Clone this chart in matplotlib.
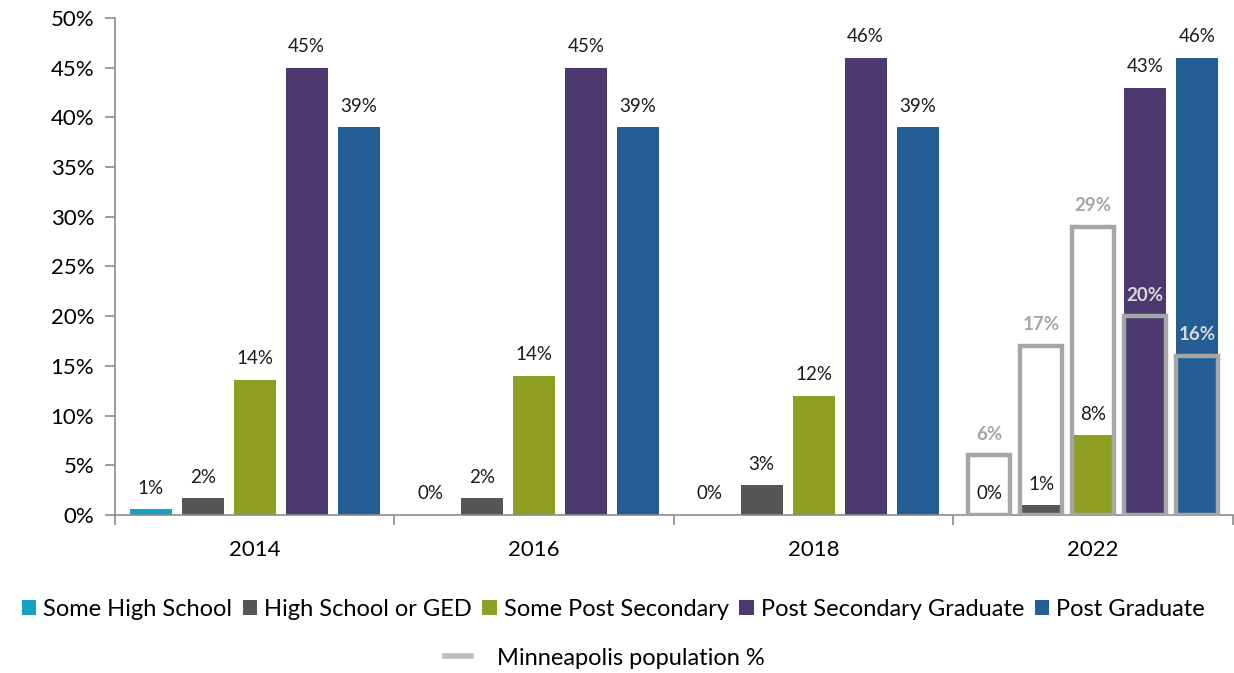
import numpy as np
import matplotlib.pyplot as plt
from matplotlib.patches import Patch
from matplotlib.lines import Line2D

plt.rcParams['font.family'] = ['Lato', 'DejaVu Sans']

years = ["2014", "2016", "2018", "2022"]
levels = ["Some High School", "High School or GED", "Some Post Secondary",
          "Post Secondary Graduate", "Post Graduate"]
colors = ["#17A2C3", "#555657", "#8E9F24", "#4B3970", "#245C94"]

# survey share by education level, one list per level (years in order)
some_hs = [0.6, 0.0, 0.0, 0.0]
hs_ged = [1.7, 1.7, 3.0, 1.0]
some_post = [13.6, 14.0, 12.0, 8.0]
post_grad_sec = [45.0, 45.0, 46.0, 43.0]
post_grad = [39.0, 39.0, 39.0, 46.0]
series = [some_hs, hs_ged, some_post, post_grad_sec, post_grad]

# city population for 2022
mpls_pop = [6, 17, 29, 20, 16]
mpls_label_colors = ["#A6A6A6", "#A6A6A6", "#A6A6A6", "#D9D9D9", "#D9D9D9"]

fig = plt.figure(figsize=(12.34, 6.73), dpi=100)
ax = fig.add_axes([0.0932, 0.2348, 0.9058, 0.7385])

x = np.arange(len(years))
step = 0.186
width = 0.15
lbl_size = 13.5

for i, (vals, c) in enumerate(zip(series, colors)):
    pos = x + (i - 2) * step
    ax.bar(pos, vals, width, color=c, zorder=2)
    for px, v in zip(pos, vals):
        if px > 2.5:
            continue
        ax.annotate("{:.0f}%".format(v), (px, v), xytext=(0, 9),
                    textcoords="offset points", ha="center", va="bottom",
                    fontsize=lbl_size, color="#1a1a1a")

# 2022 group: survey labels sit above the survey bars
pos22 = 3 + (np.arange(5) - 2) * step
vals22 = [s[3] for s in series]
ax.bar(pos22, mpls_pop, width, fill=False, edgecolor="#A6A6A6",
       linewidth=3.2, zorder=3)
for px, v in zip(pos22, vals22):
    ax.annotate("{:.0f}%".format(v), (px, v), xytext=(0, 9),
                textcoords="offset points", ha="center", va="bottom",
                fontsize=lbl_size, color="#1a1a1a", zorder=4)
for px, v, lc in zip(pos22, mpls_pop, mpls_label_colors):
    ax.annotate("{:.0f}%".format(v), (px, v), xytext=(0, 9),
                textcoords="offset points", ha="center", va="bottom",
                fontsize=lbl_size, color=lc, fontweight="bold", zorder=4)

ax.set_ylim(0, 50)
ax.set_xlim(-0.5, 3.5)
ax.set_yticks(np.arange(0, 51, 5))
ax.set_yticklabels(["{}%".format(t) for t in range(0, 51, 5)], fontsize=16)
ax.set_xticks(x)
ax.set_xticklabels(years, fontsize=16)
ax.set_xticks([-0.5, 0.5, 1.5, 2.5, 3.5], minor=True)
ax.tick_params(axis="x", which="major", length=0, pad=18)
ax.tick_params(axis="x", which="minor", length=7, color="#8C8C8C", width=1.2)
ax.tick_params(axis="y", length=7, color="#8C8C8C", width=1.2, pad=8)
for s in ["top", "right"]:
    ax.spines[s].set_visible(False)
for s in ["left", "bottom"]:
    ax.spines[s].set_color("#8C8C8C")
    ax.spines[s].set_linewidth(1.2)

handles = [Patch(facecolor=c, label=l) for c, l in zip(colors, levels)]
fig.legend(handles=handles, loc="center", bbox_to_anchor=(0.497, 0.094),
           ncol=5, frameon=False, fontsize=17, handlelength=0.6,
           handleheight=0.6, handletextpad=0.3, columnspacing=0.45)
line = Line2D([], [], color="#BFBFBF", linewidth=4,
              label="Minneapolis population %")
fig.legend(handles=[line], loc="center", bbox_to_anchor=(0.49, 0.022),
           frameon=False, fontsize=17, handlelength=1.1, handletextpad=1.1)

fig.savefig("out.png", dpi=100)
